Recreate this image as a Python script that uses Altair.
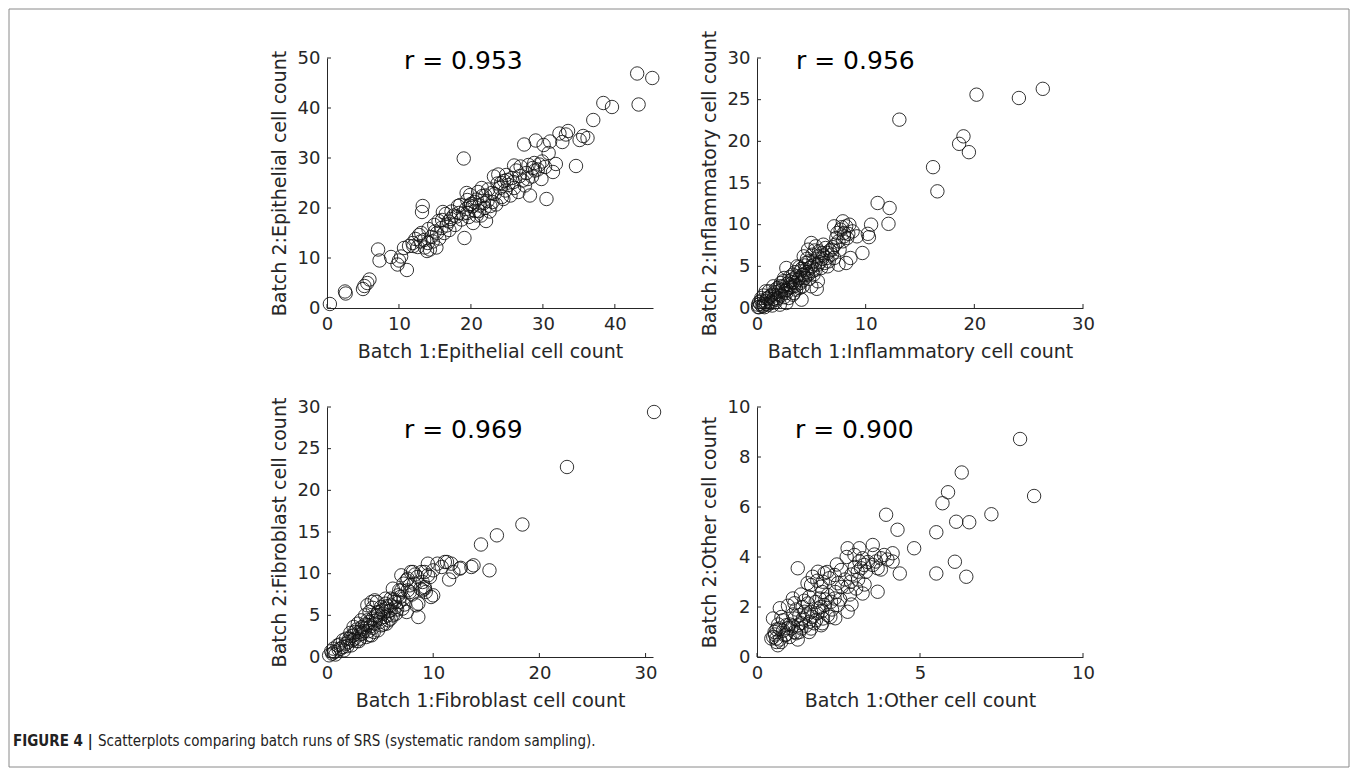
import altair as alt
import pandas as pd

# ---------------- data ----------------
epi_pts = [
    (0.4, 0.8), (2.5, 3.3), (2.6, 2.9), (5.0, 3.8), (5.2, 4.4), (5.6, 5.0), (5.9, 5.7),
    (7.1, 11.7), (7.3, 9.5), (8.9, 10.2), (9.8, 8.7), (10.0, 9.5), (10.3, 10.3), (11.1, 7.6),
    (10.7, 12.0), (11.4, 12.4), (11.9, 13.0), (12.3, 13.8), (12.6, 12.2), (13.2, 19.2),
    (13.3, 20.4), (12.8, 14.6), (13.1, 15.0), (13.5, 13.6), (13.6, 12.1), (13.9, 11.4),
    (14.3, 11.7), (14.1, 15.8), (14.5, 14.2), (14.9, 16.6), (15.2, 12.1), (15.6, 13.9),
    (15.5, 17.4), (15.9, 16.0), (16.1, 19.2), (16.5, 18.8), (16.6, 16.5), (16.9, 17.3),
    (17.3, 19.3), (17.6, 18.5), (18.3, 19.0), (18.5, 20.6), (18.7, 17.7), (19.0, 29.9),
    (19.1, 14.0), (19.3, 19.8), (19.5, 21.6), (19.7, 18.2), (19.9, 22.6), (20.2, 20.3),
    (20.3, 17.0), (20.6, 19.4), (20.8, 21.7), (21.0, 23.2), (21.2, 20.5), (21.4, 18.5),
    (21.6, 22.4), (21.9, 20.0), (22.1, 17.4), (22.3, 21.4), (22.6, 19.3), (22.9, 23.0),
    (23.2, 26.3), (23.5, 20.7), (23.8, 26.7), (24.0, 24.0), (24.3, 22.2), (24.6, 25.4),
    (24.9, 26.6), (25.2, 24.6), (25.5, 22.5), (25.7, 26.0), (26.0, 24.0), (26.3, 27.5),
    (26.6, 23.2), (26.9, 28.3), (27.2, 25.5), (27.4, 32.7), (27.7, 27.0), (28.0, 28.6),
    (28.2, 22.5), (28.5, 26.3), (28.8, 29.0), (29.0, 33.5), (29.3, 27.7), (29.5, 28.7),
    (29.8, 25.8), (30.1, 32.6), (30.3, 28.2), (30.5, 21.8), (30.8, 31.0), (31.0, 33.3),
    (31.4, 27.2), (31.8, 28.8), (32.3, 34.9), (32.7, 33.2), (33.2, 34.7), (33.5, 35.4),
    (34.6, 28.4), (35.1, 33.6), (35.6, 34.4), (36.2, 34.0), (37.0, 37.6), (38.4, 41.0),
    (39.6, 40.2), (43.1, 46.9), (43.3, 40.7), (45.2, 46.0), (21.5, 24.0), (20.0, 20.8),
    (22.0, 22.5), (19.5, 19.0), (18.0, 18.3), (23.0, 21.2), (24.8, 23.5), (17.0, 15.6),
    (15.0, 15.3), (16.3, 15.0), (27.5, 24.5), (26.0, 28.5), (28.6, 28.0),
    (12.0, 12.4), (13.0, 13.3), (14.0, 13.0), (15.3, 15.0), (16.0, 17.6), (17.2, 17.8),
    (18.2, 20.4), (18.9, 18.9), (19.8, 20.5), (20.5, 21.2), (21.1, 19.4), (21.8, 21.0),
    (22.4, 23.7), (23.3, 22.8), (24.2, 25.0), (25.0, 25.6), (25.9, 25.2), (26.8, 26.4),
    (27.9, 25.8), (28.9, 27.5), (29.9, 29.3), (20.8, 18.5), (22.7, 20.4), (24.5, 21.8),
    (17.8, 16.6), (14.7, 13.3), (19.4, 23.0), (23.7, 24.9),
]

inf_pts = [
    (13.1, 22.6), (20.2, 25.6), (24.1, 25.2), (26.3, 26.3), (18.6, 19.7), (19.0, 20.6),
    (19.5, 18.7), (16.2, 16.9), (16.6, 14.0), (11.1, 12.6), (12.2, 12.0), (12.1, 10.1),
    (10.5, 10.0), (10.2, 8.9), (10.3, 8.5), (9.7, 6.6), (9.2, 8.6),
    (7.9, 10.4), (8.2, 9.8), (8.5, 10.0), (7.7, 9.4), (7.4, 9.0), (8.0, 9.0), (8.8, 9.2),
    (8.3, 8.4), (7.9, 8.0), (7.3, 8.4), (7.1, 9.8), (6.9, 7.0), (6.5, 6.6), (7.1, 6.0),
    (6.6, 5.6), (6.2, 5.4), (6.3, 7.2), (7.5, 5.2), (8.2, 5.4), (8.6, 6.0),
    (5.4, 7.4), (5.0, 7.8), (4.7, 7.0), (5.1, 6.4), (5.6, 6.2), (4.3, 6.2), (4.5, 5.4),
    (5.3, 5.2), (5.9, 4.8), (5.1, 4.4), (4.7, 4.0), (4.0, 4.4), (3.7, 5.0), (3.9, 3.6),
    (3.3, 4.0), (2.7, 4.8), (3.0, 3.2), (3.4, 2.6), (2.4, 3.2), (2.1, 2.6), (1.7, 2.2),
    (2.7, 1.8), (1.9, 1.2), (1.4, 1.6), (1.3, 0.6), (0.8, 0.8), (0.5, 0.2), (0.2, 0.1),
    (0.1, 0.4), (0.7, 0.1), (0.1, 0.1), (0.4, 1.2), (0.8, 2.0), (2.1, 0.4), (2.7, 0.6),
    (3.3, 1.6), (4.2, 2.6), (5.0, 2.6), (5.5, 2.3), (5.6, 3.2), (4.3, 4.0), (4.1, 1.0),
    (1.0, 1.2), (1.3, 0.8), (1.6, 1.5), (2.0, 2.0), (2.2, 1.5), (2.4, 2.6), (2.7, 2.2),
    (3.0, 2.8), (3.2, 3.4), (3.5, 3.0), (3.7, 3.8), (1.1, 2.0), (0.8, 0.5), (1.8, 1.0),
    (2.5, 3.6), (3.9, 2.4), (4.2, 3.3), (4.5, 4.6), (4.8, 5.6), (5.2, 4.0), (5.6, 5.2),
    (6.0, 5.9), (6.5, 5.0), (6.9, 6.4), (7.2, 7.6), (7.5, 8.0), (3.4, 1.8), (2.9, 1.2),
    (1.5, 2.6), (0.4, 0.9),
    (0.3, 0.5), (0.6, 0.3), (0.9, 1.1), (1.2, 1.4), (1.5, 1.1), (1.7, 1.9), (2.0, 1.6),
    (2.3, 2.2), (2.6, 2.0), (2.8, 2.9), (3.1, 2.5), (3.3, 3.1), (3.6, 2.7), (3.8, 3.4),
    (4.0, 3.0), (4.2, 4.0), (4.4, 3.6), (4.6, 4.3), (4.9, 4.8), (5.2, 5.6), (5.4, 4.6),
    (5.8, 5.5), (6.1, 6.3), (6.4, 6.0), (6.7, 6.9), (7.0, 7.3), (7.6, 7.0), (8.0, 8.6),
    (8.4, 8.9), (7.8, 9.7), (1.0, 0.4), (1.9, 2.4), (2.2, 3.0), (3.0, 3.7), (3.5, 4.3),
    (4.1, 4.7), (4.4, 5.1), (5.0, 5.0), (5.7, 6.8), (6.0, 6.6), (2.5, 1.3), (3.6, 2.2),
    (4.8, 3.5), (1.4, 0.3), (0.6, 1.5), (0.2, 0.7), (1.7, 0.7), (2.9, 2.4), (3.9, 4.9),
    (4.6, 5.9), (5.3, 6.9), (6.1, 7.6),
]

fib_pts = [
    (30.8, 29.4), (22.6, 22.8), (18.4, 15.9), (16.0, 14.6), (14.5, 13.5), (15.3, 10.4),
    (13.8, 11.0), (12.6, 10.7), (11.5, 9.3),
    (11.7, 11.2), (11.3, 11.4), (10.8, 10.8), (11.9, 10.2), (9.5, 11.2), (10.0, 10.4),
    (9.7, 9.6), (9.2, 10.2), (9.2, 8.2), (10.0, 7.4), (8.6, 4.8), (8.6, 6.4), (7.9, 10.2),
    (7.6, 9.4), (7.2, 8.8), (6.8, 8.0), (11.1, 11.4), (12.5, 10.6), (13.6, 10.8),
    (10.4, 11.2), (8.1, 10.2), (8.9, 10.2), (9.5, 9.8), (7.5, 9.2), (7.8, 8.6), (9.2, 8.4),
    (9.3, 7.8), (9.8, 7.2), (8.4, 6.2), (7.0, 8.0), (6.7, 7.4), (6.4, 6.6), (6.0, 6.2),
    (5.6, 5.8), (5.1, 6.0), (6.0, 7.0), (7.1, 5.8), (7.5, 5.4), (5.7, 5.0), (4.2, 6.6),
    (4.5, 6.8), (4.0, 5.4), (4.8, 5.4), (4.6, 4.4), (5.1, 3.8), (5.6, 4.0), (3.8, 3.8),
    (3.4, 3.4), (2.9, 4.0), (2.6, 3.0), (4.2, 2.6), (3.7, 2.4), (2.1, 2.2), (1.8, 1.6),
    (1.3, 1.0), (1.0, 1.4), (0.7, 0.6), (0.2, 0.2), (0.5, 0.4), (3.1, 2.2), (2.4, 2.0),
    (2.5, 2.6), (3.0, 3.0), (3.3, 2.8), (3.6, 3.9), (4.0, 4.2), (4.3, 3.5), (4.6, 4.9),
    (5.0, 4.6), (5.3, 5.2), (5.8, 5.5), (6.2, 5.0), (6.5, 6.0), (6.8, 6.6), (7.2, 7.0),
    (3.9, 3.1), (2.2, 2.9), (1.5, 2.0), (1.1, 0.9), (0.6, 1.0), (2.8, 1.9), (4.8, 3.2),
    (5.5, 6.4), (3.2, 4.4), (6.0, 4.6), (8.0, 7.5), (8.8, 8.2), (9.0, 9.0), (7.8, 7.8),
    (4.0, 2.6), (1.9, 1.3),
    (0.4, 0.7), (0.8, 0.3), (1.2, 1.5), (1.5, 1.2), (1.8, 2.2), (2.0, 1.8), (2.3, 2.5),
    (2.6, 2.2), (2.8, 3.3), (3.1, 2.7), (3.3, 3.6), (3.5, 3.1), (3.8, 4.4), (4.1, 3.7),
    (4.3, 4.6), (4.5, 4.0), (4.8, 5.0), (5.0, 4.2), (5.2, 5.6), (5.4, 4.8), (5.7, 6.1),
    (6.0, 5.6), (6.3, 6.9), (6.6, 5.7), (6.9, 7.2), (7.3, 6.3), (7.6, 8.0), (8.2, 8.8),
    (8.5, 9.6), (9.0, 8.0), (3.6, 5.0), (4.3, 5.9), (2.5, 3.6), (1.6, 0.8), (2.3, 1.4),
    (3.0, 1.9), (4.4, 3.0), (5.3, 3.9), (5.8, 4.4), (6.5, 5.2), (3.8, 6.2), (4.7, 6.6),
    (5.5, 7.0), (6.2, 8.2), (7.0, 9.8), (8.3, 9.9),
]

oth_pts = [
    (8.07, 8.72), (8.50, 6.44), (6.28, 7.38), (5.86, 6.59), (5.69, 6.15), (7.19, 5.71),
    (6.51, 5.39), (6.11, 5.41), (5.50, 4.99), (6.07, 3.81), (5.50, 3.34), (6.42, 3.21),
    (3.96, 5.69), (4.31, 5.09), (4.82, 4.35), (3.55, 4.48), (3.14, 4.35), (2.78, 4.35),
    (2.99, 4.08), (3.14, 3.82), (3.19, 3.55), (3.09, 3.41), (3.29, 3.68), (3.24, 3.95),
    (3.34, 3.41), (3.55, 3.68), (3.65, 3.82), (3.70, 3.55), (3.80, 3.95), (3.90, 4.08),
    (4.16, 4.15), (4.16, 3.82), (4.38, 3.34), (3.70, 2.61), (3.24, 2.54), (3.04, 2.74),
    (2.88, 3.01), (2.78, 2.81), (2.58, 3.48), (2.38, 3.28), (2.48, 2.95), (2.22, 3.15),
    (2.07, 3.35), (2.02, 3.01), (1.97, 2.81), (1.66, 2.88), (1.71, 3.21), (1.87, 3.41),
    (1.25, 3.55), (1.10, 2.34), (2.78, 1.81), (2.17, 2.48), (2.27, 2.21), (2.07, 2.08),
    (1.87, 1.94), (1.66, 1.81), (2.38, 2.34), (2.48, 2.08), (1.92, 2.34), (1.56, 2.14),
    (2.17, 1.67), (2.02, 1.54), (1.81, 1.47), (1.61, 1.41), (1.41, 1.54), (1.46, 1.81),
    (1.30, 1.67), (1.15, 1.54), (1.25, 1.27), (1.05, 1.14), (0.90, 1.27), (0.80, 1.47),
    (0.69, 1.14), (0.54, 1.00), (0.44, 0.74), (0.50, 0.80), (0.59, 0.74), (0.74, 0.60),
    (0.64, 0.47), (0.49, 1.54), (0.85, 0.87), (1.00, 0.80), (1.15, 1.00), (1.36, 1.14),
    (1.66, 1.14), (1.97, 1.27), (0.75, 1.60), (0.60, 1.10), (0.90, 0.90), (1.20, 1.90),
    (1.40, 2.00), (1.70, 1.60), (1.00, 1.30), (1.30, 1.00), (0.70, 0.70), (1.60, 2.40),
    (2.00, 2.60), (2.30, 1.90), (1.80, 2.20), (1.10, 1.70), (2.60, 2.80), (2.90, 3.30),
    (0.55, 0.90), (0.65, 1.30), (0.80, 1.05), (0.95, 1.15), (1.10, 1.25), (1.20, 0.95),
    (1.35, 1.35), (1.50, 1.25), (1.55, 1.70), (1.75, 1.35), (1.85, 1.75), (2.00, 1.85),
    (2.10, 2.30), (2.25, 1.60), (2.40, 2.60), (2.55, 2.30), (2.70, 3.10), (2.85, 2.50),
    (3.00, 3.60), (3.10, 3.10), (3.40, 3.80), (3.60, 4.10), (3.80, 3.50), (4.00, 3.90),
    (0.70, 1.95), (0.95, 2.05), (1.15, 2.15), (1.35, 2.50), (1.55, 2.95), (1.85, 3.05),
    (2.15, 3.40), (2.45, 3.70), (2.75, 4.00), (1.25, 0.70), (1.60, 1.00), (2.00, 1.35),
    (2.40, 1.55), (2.90, 2.10), (3.30, 2.90), (0.60, 0.60), (1.45, 2.25), (1.95, 2.00),
]

x_titles = ["Batch 1:Epithelial cell count", "Batch 1:Inflammatory cell count",
            "Batch 1:Fibroblast cell count", "Batch 1:Other cell count"]
y_titles = ["Batch 2:Epithelial cell count", "Batch 2:Inflammatory cell count",
            "Batch 2:Fibroblast cell count", "Batch 2:Other cell count"]
r_labels = ["r = 0.953", "r = 0.956", "r = 0.969", "r = 0.900"]
x_domains = [[0, 45.3], [0, 30], [0, 30.7], [0, 10]]
y_domains = [[0, 50], [0, 30], [0, 30], [0, 10]]
x_ticks = [[0, 10, 20, 30, 40], [0, 10, 20, 30], [0, 10, 20, 30], [0, 5, 10]]
y_ticks = [[0, 10, 20, 30, 40, 50], [0, 5, 10, 15, 20, 25, 30],
           [0, 5, 10, 15, 20, 25, 30], [0, 2, 4, 6, 8, 10]]
caption_bold = "FIGURE 4 |"
caption_text = "Scatterplots comparing batch runs of SRS (systematic random sampling)."

# ---------------- styling ----------------
W, H = 326, 250
AX = "#262626"
FONT = "DejaVu Sans"
CAP_FONT = "Liberation Sans Narrow, DejaVu Sans Condensed, sans-serif"
r_pos = [(77, 11), (39, 11), (77, 31), (38, 31)]
one = pd.DataFrame({"k": [0]})


def panel(i, pts):
    df = pd.DataFrame(pts, columns=["x", "y"])
    xs = alt.Scale(domain=x_domains[i], nice=False, zero=False)
    ys = alt.Scale(domain=y_domains[i], nice=False, zero=False)
    common = dict(ticks=False, tickSize=0, grid=False, domainColor=AX, domainWidth=1,
                  labelColor=AX, labelFont=FONT, labelFontSize=18, labelPadding=7,
                  labelFlush=False, labelOverlap=False, titleColor=AX, titleFont=FONT,
                  titleFontSize=19, titleFontWeight="normal", titleBaseline="alphabetic",
                  format="d")
    xaxis = alt.Axis(values=x_ticks[i], title=x_titles[i], titleX=W / 2, titleY=49,
                     titleAlign="center", **common)
    yaxis = alt.Axis(values=y_ticks[i], title=y_titles[i], titleX=-42, titleY=H / 2,
                     titleAngle=270, titleAlign="center", **common)
    pts_layer = alt.Chart(df).mark_point(
        shape="circle", filled=False, size=180, stroke="#111111", strokeWidth=0.85, opacity=1
    ).encode(x=alt.X("x:Q", scale=xs, axis=xaxis), y=alt.Y("y:Q", scale=ys, axis=yaxis))
    xt = alt.Chart(pd.DataFrame({"x": x_ticks[i]})).mark_rule(color=AX, strokeWidth=1).encode(
        x=alt.X("x:Q", scale=xs, axis=xaxis), y=alt.value(H), y2=alt.value(H - 4))
    yt = alt.Chart(pd.DataFrame({"y": y_ticks[i]})).mark_rule(color=AX, strokeWidth=1).encode(
        y=alt.Y("y:Q", scale=ys, axis=yaxis), x=alt.value(0), x2=alt.value(4))
    rt = alt.Chart(one).mark_text(
        align="left", baseline="alphabetic", font=FONT, fontSize=25, color="black"
    ).encode(x=alt.value(r_pos[i][0]), y=alt.value(r_pos[i][1]), text=alt.value(r_labels[i]))
    layers = [pts_layer, xt, yt, rt]
    if i == 0:
        frame = alt.Chart(one).mark_rect(fillOpacity=0, stroke="#8a8a8a", strokeWidth=1).encode(
            x=alt.value(-318), x2=alt.value(1022), y=alt.value(-49), y2=alt.value(709))
        cb = alt.Chart(one).mark_text(
            align="left", baseline="alphabetic", font=CAP_FONT, fontSize=15,
            fontWeight="bold", color="#222222"
        ).encode(x=alt.value(-314), y=alt.value(688), text=alt.value(caption_bold))
        ct = alt.Chart(one).mark_text(
            align="left", baseline="alphabetic", font=CAP_FONT, fontSize=15, color="#222222"
        ).encode(x=alt.value(-229), y=alt.value(688), text=alt.value(caption_text))
        layers += [frame, cb, ct]
    return alt.layer(*layers).properties(width=W, height=H)


panels = [panel(0, epi_pts), panel(1, inf_pts), panel(2, fib_pts), panel(3, oth_pts)]
chart = alt.concat(*panels, columns=2, spacing={"row": 99, "column": 104}).properties(
    bounds="flush", padding=0, background="white"
).configure_view(strokeWidth=0)

chart.save("out.html", embed_options={"renderer": "svg", "actions": False})
